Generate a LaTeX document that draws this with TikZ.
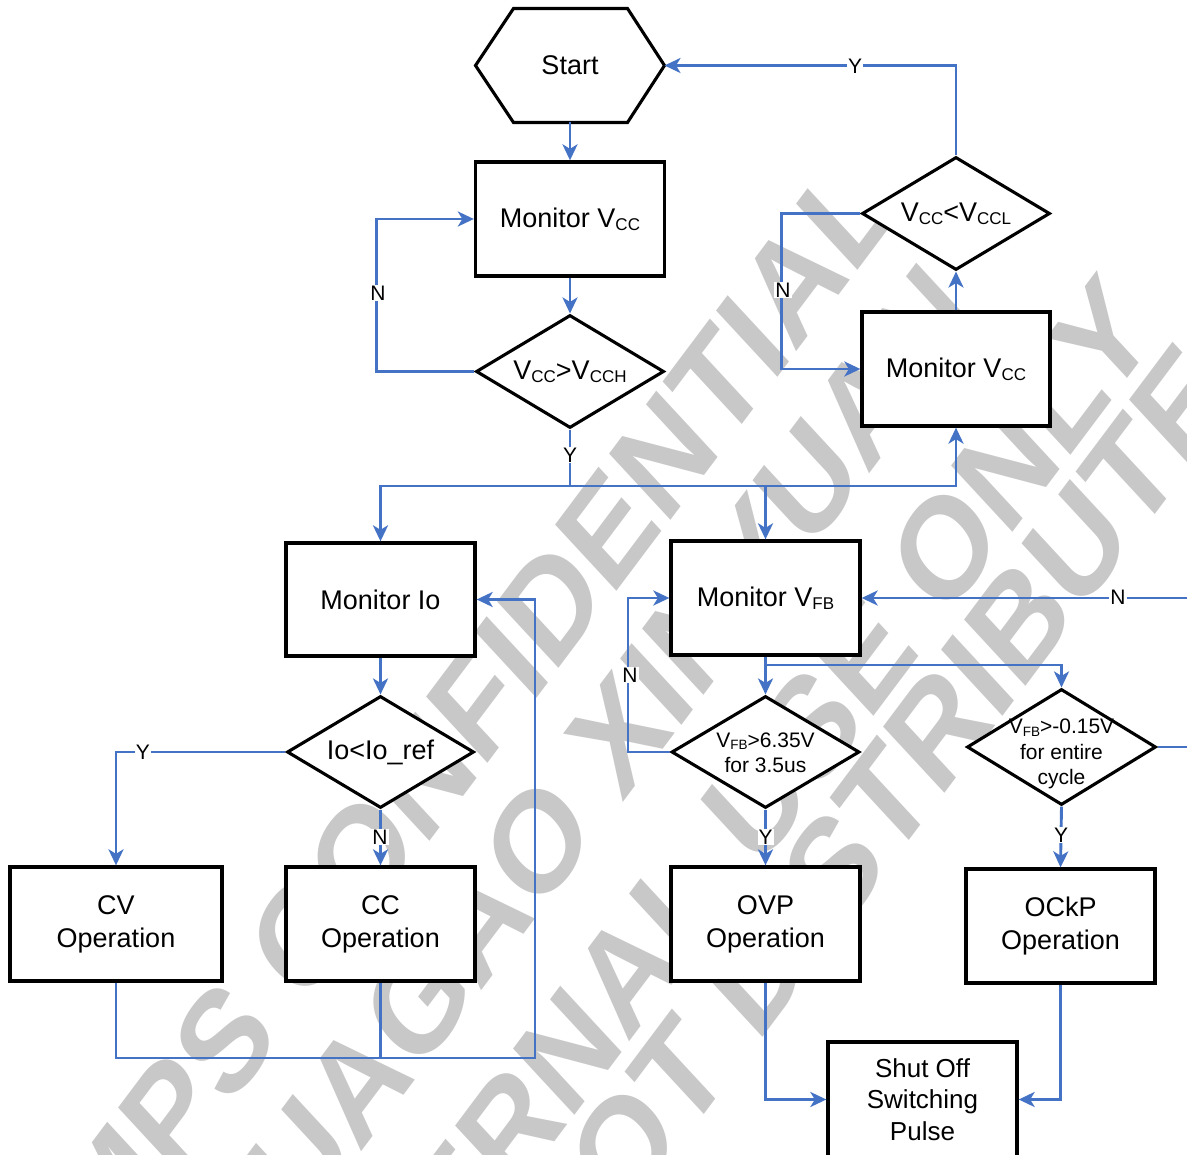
\documentclass[tikz,border=0pt]{standalone}
\usepackage{fontspec}
\setmainfont{Liberation Sans}
\usetikzlibrary{arrows.meta,shapes.geometric,calc}
\definecolor{lnblue}{RGB}{68,114,196}
\definecolor{wmgray}{RGB}{200,200,200}
\newcommand\subL[1]{\raisebox{-3pt}{\fontsize{17}{17}\selectfont #1}}
\newcommand\subS[1]{\raisebox{-2.5pt}{\fontsize{13.5}{13.5}\selectfont #1}}
\begin{document}
\begin{tikzpicture}[x=1pt,y=-1pt,
  wm/.style={text=wmgray,inner sep=0pt,font=\fontsize{120}{120}\selectfont\bfseries},
  box/.style={rectangle,draw=black,line width=3.3pt,fill=white,minimum width=189pt,minimum height=114pt,inner sep=0pt,align=center,font=\fontsize{27}{33}\selectfont},
  dia/.style={diamond,draw=black,line width=3.1pt,fill=white,inner sep=0pt,minimum width=188pt,minimum height=113pt},
  bigtext/.style={inner sep=0pt,align=center,font=\fontsize{27}{33}\selectfont},
  smalltext/.style={inner sep=0pt,align=center,font=\fontsize{21}{25.5}\selectfont},
  wire/.style={draw=lnblue,line width=2.9pt},
  conn/.style={wire,-{Stealth[length=16pt,width=15pt,inset=4.5pt]}},
  lab/.style={fill=white,inner sep=1pt,font=\fontsize{21}{21}\selectfont}]
\useasboundingbox (0,0) rectangle (1187,1155);
\clip (0,0) rectangle (1187,1155);
% watermark
\begin{scope}[shift={(474,708)}]\node[wm,yscale=1.2,rotate=48] (wm1) at (0,0) {MPS CONFIDENTIAL};\end{scope}
\begin{scope}[shift={(583,782)}]\node[wm,yscale=1.2,rotate=48] (wm2) at (0,0) {HUAGAO XINYUAN};\end{scope}
\begin{scope}[shift={(714,856)}]\node[wm,yscale=1.2,rotate=48] (wm3) at (0,0) {INTERNAL USE ONLY};\end{scope}
\begin{scope}[shift={(800,913)}]\node[wm,yscale=1.2,rotate=48] (wm4) at (0,0) {DO NOT DISTRIBUTE};\end{scope}
% start hexagon
\path node[minimum width=189pt,minimum height=114pt,inner sep=0pt,outer sep=0pt] (start) at (570,65.5) {};
\draw[line width=3.1pt,fill=white] (start.west) -- ([xshift=38pt]start.north west) -- ([xshift=-37pt]start.north east) -- (start.east) -- ([xshift=-37pt]start.south east) -- ([xshift=38pt]start.south west) -- cycle;
\node[bigtext] (starttext) at (start) {Start};
% boxes
\node[box] (mv1) at (570,219) {Monitor V\subL{CC}};
\node[box,minimum width=188pt] (mv2) at (956,369) {Monitor V\subL{CC}};
\node[box,minimum height=113pt] (mio) at (380.5,599.5) {Monitor Io};
\node[box] (mvfb) at (765.5,598) {Monitor V\subL{FB}};
\node[box,minimum width=212pt] (cv) at (116,924) {CV\\Operation};
\node[box] (cc) at (380.5,924) {CC\\Operation};
\node[box] (ovp) at (765.5,924) {OVP\\Operation};
\node[box] (ockp) at (1060.5,926) {OCkP\\Operation};
\node[box,minimum height=115pt,font=\fontsize{26}{31.5}\selectfont] (shut) at (922.5,1099.5) {Shut Off\\Switching\\Pulse};
% diamonds
\node[dia] (d1) at (570,371.5) {};
\node[bigtext] (d1t) at (d1) {V\subL{CC}>V\subL{CCH}};
\node[dia] (d2) at (956,213.5) {};
\node[bigtext] (d2t) at (d2) {V\subL{CC}<V\subL{CCL}};
\node[dia,minimum width=187pt,minimum height=112pt] (d3) at (380.5,752) {};
\node[bigtext] (d3t) at (d3) {Io<Io\_ref};
\node[dia,minimum height=112pt] (d4) at (765.5,752) {};
\node[smalltext] (d4t) at ([yshift=-1pt]d4) {V\subS{FB}>6.35V\\for 3.5us};
\node[dia,minimum width=189pt,minimum height=116pt] (d5) at (1061.5,747) {};
\node[smalltext] (d5t) at ([yshift=-7pt]d5) {V\subS{FB}>-0.15V\\for entire\\cycle};
% coordinates
\coordinate (jY) at (570,486);
\coordinate (loopR) at (535,1058);
\coordinate (jF) at (765.5,665);
\coordinate (offR) at (1205,747);
% connectors
\draw[conn] (start.south) -- (mv1.north);
\draw[conn] (mv1.south) -- (d1.north);
\draw[conn] (d1.west) -- ++(-98,0) |- (mv1.west);
\draw[wire] (d1.south) -- (jY);
\draw[conn] (jY) -| (mio.north);
\draw[conn] (jY) -| (mv2.south);
\draw[conn] (mvfb.north |- jY) -- (mvfb.north);
\draw[conn] (mv2.north) -- (d2.south);
\draw[conn] (d2.west) -- ++(-79,0) |- (mv2.west);
\draw[conn] (d2.north) |- (start.east);
\draw[conn] (mio.south) -- (d3.north);
\draw[conn] (d3.west) -| (cv.north);
\draw[conn] (d3.south) -- (cc.north);
\draw[conn] (cv.south) |- (loopR) |- (mio.east);
\draw[wire] (cc.south) -- (cc.south |- loopR);
\draw[conn] (mvfb.south) -- (d4.north);
\draw[conn] (jF) -| (d5.north);
\draw[conn] (d4.west) -- ++(-42,0) |- (mvfb.west);
\draw[conn] (d4.south) -- (ovp.north);
\draw[conn] (d5.south) -- (ockp.north);
\draw[conn] (d5.east) -- (offR) |- (mvfb.east);
\draw[conn] (ovp.south) |- (shut.west);
\draw[conn] (ockp.south) |- (shut.east);
% labels
\node[lab] (l1) at (378,293) {N};
\node[lab] (l2) at (570,455) {Y};
\node[lab] (l3) at (783,290) {N};
\node[lab] (l4) at (855,66) {Y};
\node[lab] (l5) at (143,752) {Y};
\node[lab] (l6) at (380,837) {N};
\node[lab] (l7) at (630,675) {N};
\node[lab] (l8) at (765.5,837) {Y};
\node[lab] (l9) at (1118,597) {N};
\node[lab] (l10) at (1061,835) {Y};
\end{tikzpicture}
\end{document}
